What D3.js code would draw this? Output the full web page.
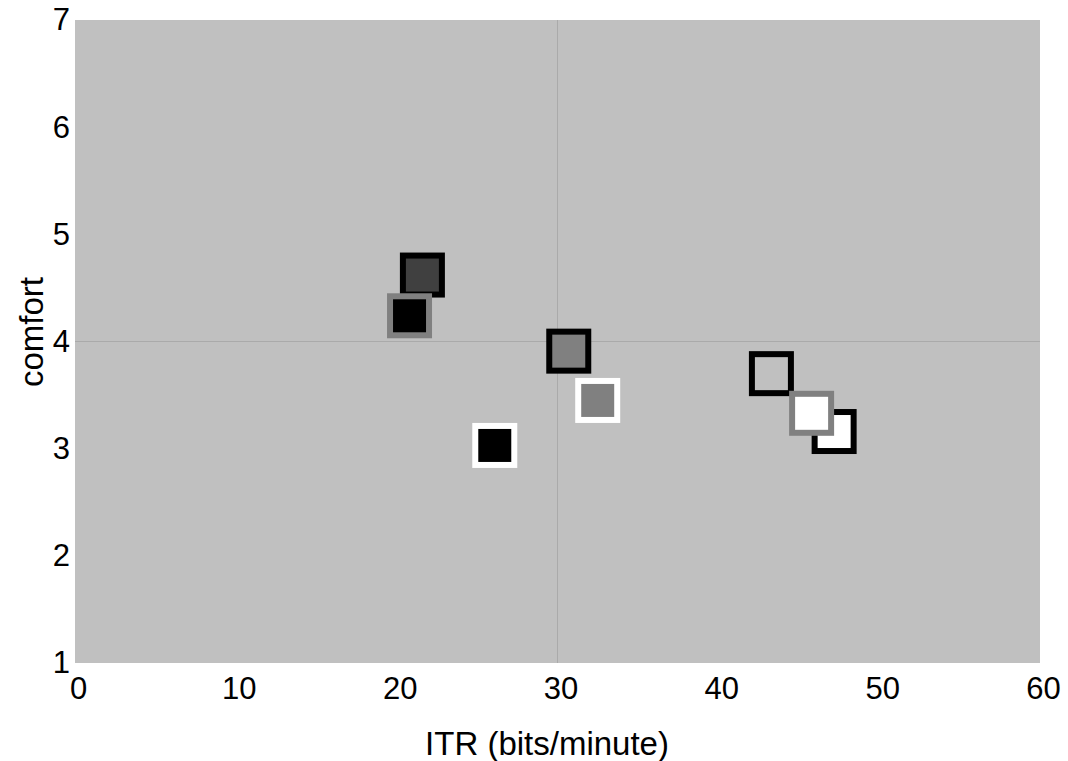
<!DOCTYPE html>
<html>
<head>
<meta charset="utf-8">
<script src="https://cdn.jsdelivr.net/npm/d3@7"></script>
<style>
  body { margin: 0; background: #fff; }
  text { font-family: "Liberation Sans", Arial, sans-serif; fill: #000; }
</style>
</head>
<body>
<svg id="chart" width="1068" height="761"></svg>
<script>
/* DATA */
// draw order matters: later points sit on top
const itr     = [21.6, 20.8, 30.7, 32.5, 26.1, 43.3, 47.2, 45.8];
const comfort = [4.62, 4.24, 3.91, 3.45, 3.03, 3.70, 3.16, 3.33];
const fills   = ["#404040", "#000000", "#808080", "#808080", "#000000", "none", "#ffffff", "#ffffff"];
const strokes = ["#000000", "#808080", "#000000", "#ffffff", "#ffffff", "#000000", "#000000", "#808080"];

const xTicks = [0, 10, 20, 30, 40, 50, 60];
const yTicks = [1, 2, 3, 4, 5, 6, 7];

const margin = {top: 20, right: 28, bottom: 98, left: 75};
const width = 1068, height = 761;

const svg = d3.select("#chart");

const x = d3.scaleLinear().domain([0, 60]).range([margin.left, width - margin.right]);
const y = d3.scaleLinear().domain([1, 7]).range([height - margin.bottom, margin.top]);

// plot background
svg.append("rect")
  .attr("x", x(0)).attr("y", y(7))
  .attr("width", x(60) - x(0)).attr("height", y(1) - y(7))
  .attr("fill", "#c0c0c0");

// the two faint reference lines
svg.append("line")
  .attr("x1", x(30)).attr("x2", x(30))
  .attr("y1", y(7)).attr("y2", y(1))
  .attr("stroke", "#aaaaaa").attr("stroke-width", 1);
svg.append("line")
  .attr("x1", x(0)).attr("x2", x(60))
  .attr("y1", y(4)).attr("y2", y(4))
  .attr("stroke", "#aaaaaa").attr("stroke-width", 1);

// axes, labels only
const xAxis = svg.append("g")
  .attr("transform", `translate(0,${y(1)})`)
  .call(d3.axisBottom(x).tickValues(xTicks).tickFormat(d3.format("d")).tickSize(0).tickPadding(14));
const yAxis = svg.append("g")
  .attr("transform", `translate(${x(0)},0)`)
  .call(d3.axisLeft(y).tickValues(yTicks).tickFormat(d3.format("d")).tickSize(0).tickPadding(5));

[xAxis, yAxis].forEach(g => {
  g.select(".domain").remove();
  g.selectAll("text").attr("font-size", 31)
    .attr("font-family", "'Liberation Sans', Arial, sans-serif").attr("fill", "#000");
});
// labels sit a touch right of their ticks in the original
xAxis.selectAll("text").attr("dx", 3);

// markers
const side = 39;
const pts = itr.map((d, i) => ({x: d, y: comfort[i], fill: fills[i], stroke: strokes[i]}));
svg.append("g").selectAll("rect")
  .data(pts)
  .join("rect")
  .attr("x", d => x(d.x) - side / 2)
  .attr("y", d => y(d.y) - side / 2)
  .attr("width", side).attr("height", side)
  .attr("fill", d => d.fill)
  .attr("stroke", d => d.stroke)
  .attr("stroke-width", 6);

// axis titles
svg.append("text")
  .attr("x", 547).attr("y", 755)
  .attr("text-anchor", "middle")
  .attr("font-size", 33)
  .text("ITR (bits/minute)");

svg.append("text")
  .attr("transform", "translate(43,332) rotate(-90)")
  .attr("text-anchor", "middle")
  .attr("font-size", 33)
  .text("comfort");
</script>
</body>
</html>
